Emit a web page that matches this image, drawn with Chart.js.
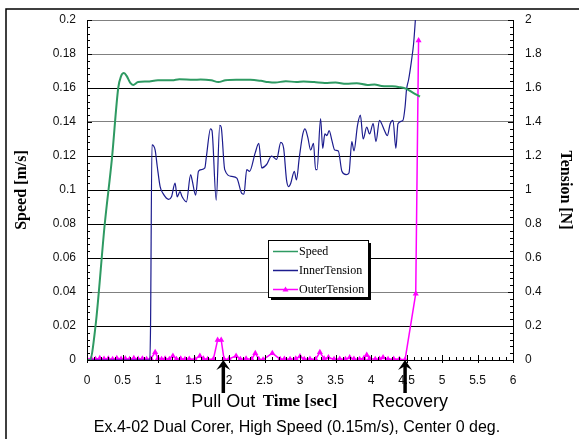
<!DOCTYPE html>
<html>
<head>
<meta charset="utf-8">
<script src="https://cdn.jsdelivr.net/npm/chart.js@4.4.0/dist/chart.umd.min.js"></script>
<style>
html, body { margin: 0; padding: 0; background: #fff; }
canvas { display: block; }
</style>
</head>
<body>
<canvas id="chart" width="579" height="439"></canvas>
<script>
// speed [m/s], left axis
const speedTime = [0, 0.04, 0.12, 0.25, 0.35, 0.44, 0.48, 0.52, 0.56, 0.61, 0.65, 0.72, 0.85, 1.0, 1.2, 1.3, 1.5, 1.6, 1.75, 1.85, 1.95, 2.1, 2.3, 2.45, 2.55, 2.65, 2.8, 2.95, 3.05, 3.2, 3.35, 3.5, 3.65, 3.8, 3.95, 4.05, 4.15, 4.3, 4.4, 4.5, 4.6, 4.69];
const speedValues = [0, 0, 0.02, 0.08, 0.118, 0.16, 0.167, 0.1688, 0.167, 0.163, 0.1618, 0.1635, 0.1638, 0.1645, 0.1645, 0.1652, 0.1648, 0.165, 0.1645, 0.1635, 0.1645, 0.1648, 0.1648, 0.1642, 0.1635, 0.1632, 0.164, 0.1635, 0.1638, 0.1635, 0.163, 0.1632, 0.1625, 0.1628, 0.1618, 0.162, 0.1612, 0.161, 0.1605, 0.1595, 0.157, 0.155];

// inner tension [N], right axis
const innerTime = [0, 0.885, 0.895, 0.915, 0.96, 0.99, 1.03, 1.07, 1.15, 1.19, 1.24, 1.27, 1.31, 1.34, 1.40, 1.46, 1.48, 1.53, 1.57, 1.61, 1.66, 1.68, 1.74, 1.76, 1.82, 1.87, 1.89, 1.94, 2.04, 2.11, 2.18, 2.21, 2.25, 2.29, 2.37, 2.42, 2.46, 2.53, 2.60, 2.67, 2.73, 2.77, 2.81, 2.84, 2.87, 2.92, 2.95, 2.99, 3.04, 3.07, 3.11, 3.15, 3.19, 3.22, 3.24, 3.29, 3.32, 3.35, 3.38, 3.41, 3.45, 3.49, 3.54, 3.59, 3.65, 3.69, 3.73, 3.76, 3.81, 3.85, 3.89, 3.94, 3.98, 4.03, 4.07, 4.12, 4.15, 4.19, 4.23, 4.27, 4.31, 4.35, 4.38, 4.45, 4.48, 4.50, 4.53, 4.57, 4.60, 4.63];
const innerValues = [0, 0, 0.2, 1.265, 1.235, 1.137, 1.02, 0.98, 0.945, 0.96, 1.04, 0.96, 0.99, 0.96, 0.93, 1.09, 1.06, 0.97, 1.11, 1.12, 1.13, 1.19, 1.36, 1.35, 0.94, 1.38, 1.37, 1.12, 1.08, 1.07, 0.98, 0.975, 1.12, 1.11, 1.22, 1.275, 1.13, 1.15, 1.20, 1.18, 1.28, 1.245, 1.06, 1.02, 1.04, 1.11, 1.06, 1.19, 1.33, 1.36, 1.31, 1.235, 1.275, 1.12, 1.12, 1.42, 1.245, 1.33, 1.32, 1.35, 1.29, 1.235, 1.23, 1.11, 1.09, 1.10, 1.285, 1.23, 1.38, 1.44, 1.30, 1.37, 1.33, 1.39, 1.285, 1.41, 1.39, 1.35, 1.32, 1.39, 1.41, 1.245, 1.39, 1.41, 1.49, 1.59, 1.65, 1.76, 1.86, 2.03];

// outer tension [N], right axis
const outerTime = [0, 0.06, 0.12, 0.18, 0.24, 0.30, 0.36, 0.42, 0.48, 0.54, 0.60, 0.66, 0.72, 0.78, 0.84, 0.90, 0.96, 1.00, 1.05, 1.10, 1.16, 1.21, 1.26, 1.32, 1.38, 1.44, 1.52, 1.59, 1.64, 1.70, 1.78, 1.84, 1.89, 1.93, 2.00, 2.10, 2.16, 2.24, 2.32, 2.37, 2.42, 2.48, 2.61, 2.72, 2.78, 2.86, 2.94, 3.00, 3.06, 3.14, 3.22, 3.28, 3.34, 3.40, 3.48, 3.56, 3.64, 3.70, 3.76, 3.84, 3.90, 3.94, 3.98, 4.06, 4.12, 4.17, 4.24, 4.32, 4.40, 4.48, 4.63, 4.67];
const outerValues = [0.005, 0.008, 0.005, 0.01, 0.006, 0.008, 0.005, 0.01, 0.006, 0.008, 0.005, 0.01, 0.006, 0.008, 0.005, 0.008, 0.045, 0.01, 0.005, 0.008, 0.005, 0.024, 0.005, 0.008, 0.005, 0.006, 0.005, 0.024, 0.008, 0.005, 0.005, 0.118, 0.118, 0.005, 0.006, 0.024, 0.005, 0.008, 0.005, 0.04, 0.005, 0.002, 0.04, 0.005, 0.006, 0.005, 0.008, 0.02, 0.005, 0.006, 0.005, 0.045, 0.008, 0.015, 0.005, 0.006, 0.005, 0.015, 0.006, 0.005, 0.01, 0.03, 0.008, 0.005, 0.006, 0.015, 0.005, 0.006, 0.005, 0.002, 0.39, 1.88];

const markTimes = [1.92, 4.48];
const markLabels = ['Pull Out', 'Recovery'];
const caption = 'Ex.4-02 Dual Corer, High Speed (0.15m/s), Center 0 deg.';

const sans = '"Liberation Sans", Arial, sans-serif';
const serif = '"Liberation Serif", "Times New Roman", serif';

function pts(xs, ys) {
    return xs.map((x, i) => ({ x: x, y: ys[i] }));
}

// 0.20 -> "0.2", 1.0 -> "1"
const plain = v => String(+Number(v).toFixed(3));

const extras = {
    id: 'extras',
    afterDraw(chart) {
        const ctx = chart.ctx;
        const a = chart.chartArea;
        const xs = chart.scales.x, ys = chart.scales.y;
        ctx.save();
        ctx.strokeStyle = '#000';
        ctx.lineWidth = 1;

        // minor / major ticks
        ctx.beginPath();
        for (let i = 0; i <= 50; i++) {
            const py = Math.round(ys.getPixelForValue(i * 0.004)) + 0.5;
            const len = i % 5 === 0 ? 5 : 3;
            ctx.moveTo(a.left, py); ctx.lineTo(a.left + len, py);
            ctx.moveTo(a.right, py); ctx.lineTo(a.right - len, py);
        }
        for (let i = 0; i <= 60; i++) {
            const px = Math.round(xs.getPixelForValue(i * 0.1)) + 0.5;
            if (i % 5 === 0) { ctx.moveTo(px, a.bottom + 3); ctx.lineTo(px, a.bottom - 5); }
            else { ctx.moveTo(px, a.bottom); ctx.lineTo(px, a.bottom - 3); }
        }
        ctx.stroke();

        // outer frame
        ctx.lineWidth = 1.5;
        ctx.beginPath();
        ctx.moveTo(6, 439); ctx.lineTo(6, 9); ctx.lineTo(579, 9);
        ctx.stroke();

        // legend
        const lx = 268, ly = 240, lw = 100, lh = 57;
        ctx.fillStyle = '#000';
        ctx.fillRect(lx + 3, ly + 3, lw, lh);
        ctx.fillStyle = '#fff';
        ctx.fillRect(lx, ly, lw, lh);
        ctx.lineWidth = 1;
        ctx.strokeRect(lx + 0.5, ly + 0.5, lw, lh);
        ctx.font = '12px ' + serif;
        ctx.textBaseline = 'middle';
        chart.data.datasets.forEach((ds, i) => {
            const yy = ly + 11.5 + i * 19;
            ctx.strokeStyle = ds.borderColor;
            ctx.lineWidth = 1.5;
            ctx.beginPath(); ctx.moveTo(lx + 5, yy); ctx.lineTo(lx + 30, yy); ctx.stroke();
            if (ds.pointStyle === 'triangle') {
                ctx.fillStyle = ds.borderColor;
                ctx.beginPath();
                ctx.moveTo(lx + 17.5, yy - 3); ctx.lineTo(lx + 20.5, yy + 2); ctx.lineTo(lx + 14.5, yy + 2);
                ctx.fill();
            }
            ctx.fillStyle = '#000';
            ctx.textAlign = 'left';
            ctx.fillText(ds.label, lx + 31, yy);
        });

        // event arrows and labels
        ctx.fillStyle = '#000';
        ctx.strokeStyle = '#000';
        markTimes.forEach((t, i) => {
            const px = xs.getPixelForValue(t);
            ctx.lineWidth = 3.5;
            ctx.beginPath(); ctx.moveTo(px, a.bottom + 6); ctx.lineTo(px, a.bottom + 33); ctx.stroke();
            ctx.beginPath();
            ctx.moveTo(px, a.bottom); ctx.lineTo(px + 7, a.bottom + 10); ctx.lineTo(px, a.bottom + 6); ctx.lineTo(px - 7, a.bottom + 10);
            ctx.closePath(); ctx.fill();
            ctx.font = '18px ' + sans;
            ctx.textAlign = 'center';
            ctx.textBaseline = 'middle';
            ctx.fillText(markLabels[i], px + (i === 1 ? 5 : 0), 402);
        });

        // caption
        ctx.font = '16px ' + sans;
        ctx.textAlign = 'center';
        ctx.fillText(caption, 297, 428);
        ctx.restore();
    }
};

const grayLines = [0.04, 0.14, 0.18, 0.2];

new Chart(document.getElementById('chart'), {
    type: 'line',
    data: {
        datasets: [
            { label: 'Speed', data: pts(speedTime, speedValues), yAxisID: 'y', borderColor: '#2e9a62', borderWidth: 2, pointRadius: 0, cubicInterpolationMode: 'monotone' },
            { label: 'InnerTension', data: pts(innerTime, innerValues), yAxisID: 'y1', borderColor: '#1c1c8e', borderWidth: 1.2, pointRadius: 0, cubicInterpolationMode: 'monotone' },
            { label: 'OuterTension', data: pts(outerTime, outerValues), yAxisID: 'y1', borderColor: '#ff00ff', backgroundColor: '#ff00ff', borderWidth: 1.5, pointStyle: 'triangle', pointRadius: 3.5, pointBorderWidth: 0, tension: 0 }
        ]
    },
    options: {
        responsive: false,
        animation: false,
        devicePixelRatio: 1,
        layout: { padding: { left: 8, right: 0, top: 20, bottom: 0 } },
        plugins: { legend: { display: false }, tooltip: { enabled: false } },
        scales: {
            x: {
                type: 'linear', min: 0, max: 6,
                afterFit: s => { s.height = 79; },
                ticks: { stepSize: 0.5, padding: 13, color: '#111', font: { family: sans, size: 12 }, callback: plain },
                grid: { display: false, drawTicks: false },
                border: { color: '#000', width: 1 },
                title: { display: true, text: 'Time [sec]', color: '#000', font: { family: serif, size: 17, weight: 'bold' }, padding: { top: 0, bottom: 27 } }
            },
            y: {
                position: 'left', min: 0, max: 0.2,
                afterFit: s => { s.width = 79; },
                ticks: { stepSize: 0.02, padding: 11, color: '#111', font: { family: sans, size: 12 }, callback: plain },
                grid: {
                    drawTicks: false,
                    color: c => grayLines.some(v => Math.abs(v - c.tick.value) < 1e-6) ? '#808080' : '#000'
                },
                border: { color: '#000', width: 1 },
                title: { display: true, text: 'Speed [m/s]', color: '#000', font: { family: serif, size: 16, weight: 'bold' }, padding: { top: 4, bottom: 0 } }
            },
            y1: {
                position: 'right', min: 0, max: 2,
                afterFit: s => { s.width = 66; },
                ticks: { stepSize: 0.2, padding: 12, color: '#111', font: { family: sans, size: 12 }, callback: plain },
                grid: { display: false, drawTicks: false },
                border: { color: '#000', width: 1 },
                title: { display: true, text: 'Tension [N]', color: '#000', font: { family: serif, size: 16, weight: 'bold' }, padding: { top: 4, bottom: 0 } }
            }
        }
    },
    plugins: [extras]
});
</script>
</body>
</html>
